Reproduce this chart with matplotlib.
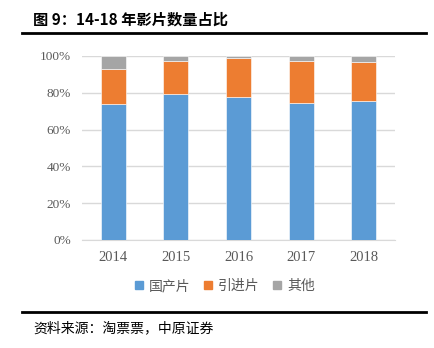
import matplotlib.pyplot as plt
from matplotlib.lines import Line2D
import numpy as np

plt.rcParams['font.family'] = ['Noto Sans CJK SC', 'DejaVu Sans']

years = ["2014", "2015", "2016", "2017", "2018"]
domestic = [74.1, 79.2, 77.9, 74.5, 75.4]
imported = [18.8, 18.3, 21.2, 23.0, 21.3]
other = [7.1, 2.5, 0.9, 2.5, 3.3]
series_names = ["国产片", "引进片", "其他"]
colors = ["#5B9BD5", "#ED7D31", "#A5A5A5"]
y_ticks = [0, 20, 40, 60, 80, 100]

fig = plt.figure(figsize=(4.34, 3.48), dpi=100)
ax = fig.add_axes([82 / 434, 108 / 348, 313 / 434, 184 / 348])

x = np.arange(len(years))
bottom = np.zeros(len(years))
for vals, name, color in zip([domestic, imported, other], series_names, colors):
    ax.bar(x, vals, width=0.4, bottom=bottom, color=color, label=name,
           edgecolor="white", linewidth=0.4, zorder=3)
    bottom += np.array(vals)

ax.set_xlim(-0.5, len(years) - 0.5)
ax.set_ylim(0, 100)
ax.set_yticks(y_ticks)
ax.set_yticklabels([f"{t}%" for t in y_ticks], family="Liberation Serif",
                   fontsize=9.5, color="#595959")
ax.set_xticks(x)
ax.set_xticklabels(years, family="Liberation Serif", fontsize=10.5, color="#595959")
ax.tick_params(length=0, pad=8)
ax.grid(axis="y", color="#D9D9D9", linewidth=1, zorder=0)
for side in ["top", "right", "left"]:
    ax.spines[side].set_visible(False)
ax.spines["bottom"].set_color("#D9D9D9")

handles = [Line2D([0], [0], marker="s", linestyle="", markersize=5.5,
                  markerfacecolor=c, markeredgecolor=c) for c in colors]
fig.legend(handles, series_names, loc="center", bbox_to_anchor=(224 / 434, 1 - 286 / 348),
           ncol=3, frameon=False, fontsize=10, handlelength=0.8, handletextpad=0.3,
           columnspacing=0.9, labelcolor="#595959")

fig.text(33 / 434, 1 - 20 / 348, "图 9：14-18 年影片数量占比", fontsize=11,
         fontweight="bold", va="center", ha="left")
fig.add_artist(Line2D([22 / 434, 426 / 434], [1 - 33 / 348] * 2, color="black", linewidth=2))
fig.add_artist(Line2D([22 / 434, 426 / 434], [1 - 312 / 348] * 2, color="black", linewidth=2))
fig.text(33 / 434, 1 - 328 / 348, "资料来源：淘票票，中原证券", fontsize=10,
         va="center", ha="left")

fig.savefig("out.png", dpi=100)
